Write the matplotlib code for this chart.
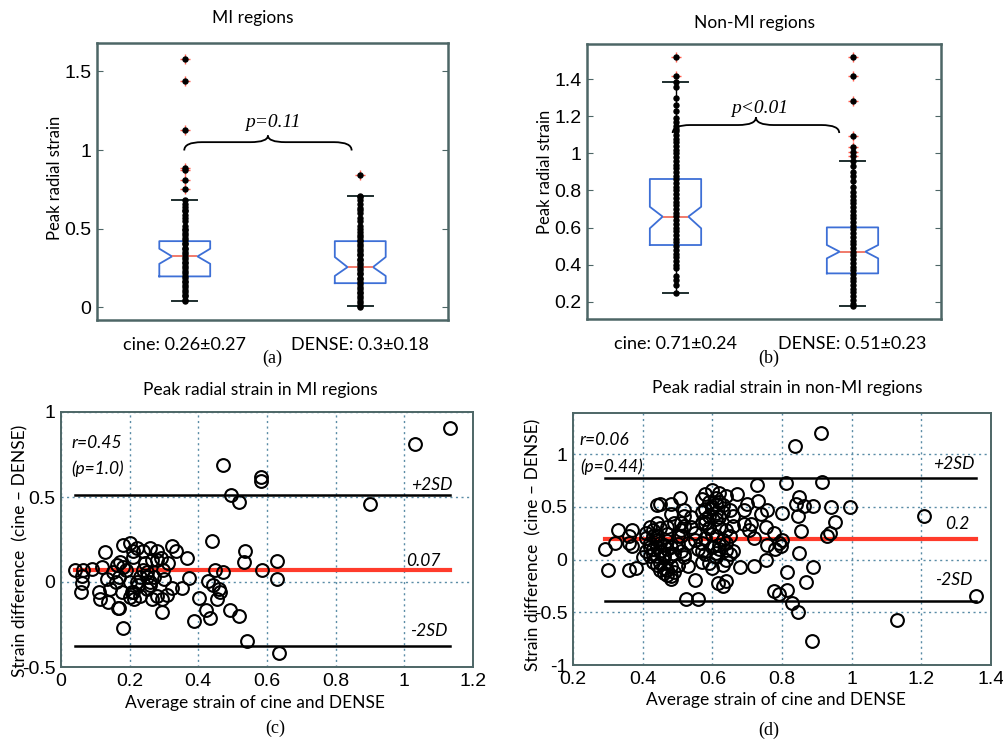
import numpy as np
import matplotlib
matplotlib.use('Agg')
import matplotlib.pyplot as plt
from matplotlib.path import Path
from matplotlib.patches import PathPatch
from matplotlib.ticker import FuncFormatter

# ---------------- data ----------------
# (a) MI regions, strip values
mi_cine = [0.04, 0.05, 0.07, 0.08, 0.10, 0.11, 0.13, 0.14, 0.16, 0.17, 0.19, 0.20,
           0.22, 0.23, 0.25, 0.26, 0.28, 0.29, 0.31, 0.32, 0.34, 0.35, 0.37, 0.38,
           0.40, 0.41, 0.43, 0.44, 0.46, 0.47, 0.49, 0.50, 0.52, 0.55, 0.57, 0.59,
           0.61, 0.62, 0.64, 0.66, 0.68, 0.754, 0.811, 0.87, 0.885, 1.128, 1.437, 1.579]
mi_dense = [0.0, 0.01, 0.03, 0.04, 0.06, 0.07, 0.09, 0.10, 0.12, 0.13, 0.15, 0.16,
            0.18, 0.19, 0.21, 0.22, 0.24, 0.25, 0.27, 0.28, 0.30, 0.31, 0.33, 0.34,
            0.36, 0.37, 0.39, 0.40, 0.42, 0.43, 0.45, 0.46, 0.48, 0.50, 0.52, 0.55,
            0.57, 0.60, 0.62, 0.63, 0.66, 0.68, 0.70, 0.71, 0.844]
mi_cine_out = [0.754, 0.811, 0.87, 0.885, 1.128, 1.437, 1.579]
mi_dense_out = [0.844]

# (b) non-MI regions, strip values
nonmi_cine = [0.245, 0.29, 0.32, 0.34, 0.38, 0.40, 0.42, 0.44, 0.46, 0.48, 0.50, 0.52,
              0.54, 0.56, 0.58, 0.60, 0.62, 0.64, 0.66, 0.68, 0.70, 0.72, 0.74, 0.76,
              0.78, 0.80, 0.82, 0.84, 0.86, 0.88, 0.90, 0.92, 0.94, 0.96, 0.98, 1.00,
              1.02, 1.04, 1.06, 1.08, 1.10, 1.12, 1.13, 1.15, 1.17, 1.19, 1.23, 1.26,
              1.30, 1.36, 1.387, 1.418, 1.519]
nonmi_dense = [0.176, 0.19, 0.21, 0.23, 0.25, 0.27, 0.29, 0.31, 0.33, 0.35, 0.37, 0.39,
               0.41, 0.43, 0.45, 0.47, 0.49, 0.51, 0.53, 0.55, 0.57, 0.59, 0.61, 0.63,
               0.65, 0.67, 0.69, 0.71, 0.73, 0.75, 0.77, 0.79, 0.82, 0.85, 0.88, 0.90,
               0.93, 0.961, 0.986, 1.01, 1.036, 1.094, 1.28, 1.418, 1.52]
nonmi_cine_out = [1.418, 1.519]
nonmi_dense_out = [0.986, 1.01, 1.036, 1.094, 1.28, 1.418, 1.52]

# box statistics: q1, median, q3, notch low/high, whisker low/high
box_mi = [dict(q1=0.197, med=0.324, q3=0.421, cilo=0.277, cihi=0.373, whislo=0.038, whishi=0.684),
          dict(q1=0.154, med=0.256, q3=0.421, cilo=0.20, cihi=0.32, whislo=0.006, whishi=0.711)]
box_nonmi = [dict(q1=0.506, med=0.659, q3=0.862, cilo=0.596, cihi=0.712, whislo=0.245, whishi=1.387),
             dict(q1=0.353, med=0.47, q3=0.601, cilo=0.434, cihi=0.506, whislo=0.176, whishi=0.961)]

labels_mi = ['cine: 0.26\u00b10.27', 'DENSE: 0.3\u00b10.18']
labels_nonmi = ['cine: 0.71\u00b10.24', 'DENSE: 0.51\u00b10.23']

# (c) Bland-Altman, MI regions
mi_avg = [1.133, 1.031, 0.471, 0.583, 0.583, 0.494, 0.519, 0.90, 0.441, 0.536, 0.534, 0.630,
          0.629, 0.586, 0.471, 0.448, 0.429, 0.444, 0.403, 0.421, 0.435, 0.388, 0.459, 0.454,
          0.463, 0.493, 0.519, 0.543, 0.634, 0.18, 0.17, 0.165, 0.295, 0.128, 0.041, 0.059,
          0.06, 0.061, 0.063, 0.09, 0.118, 0.112, 0.114, 0.138, 0.144, 0.133, 0.163, 0.173,
          0.182, 0.178, 0.16, 0.169, 0.15, 0.182, 0.2, 0.21, 0.22, 0.21, 0.19, 0.2,
          0.21, 0.213, 0.22, 0.23, 0.225, 0.23, 0.24, 0.245, 0.25, 0.26, 0.265, 0.27,
          0.28, 0.29, 0.3, 0.26, 0.25, 0.24, 0.324, 0.334, 0.366, 0.373, 0.351, 0.322,
          0.308, 0.295, 0.279, 0.264, 0.298, 0.313, 0.279, 0.259, 0.25, 0.206, 0.201]
mi_diff = [0.908, 0.81, 0.688, 0.616, 0.596, 0.514, 0.472, 0.459, 0.241, 0.182, 0.116, 0.124,
           0.018, 0.071, 0.057, 0.07, 0.006, -0.017, -0.096, -0.165, -0.214, -0.228, -0.04, -0.1,
           -0.06, -0.165, -0.2, -0.345, -0.416, -0.272, -0.154, -0.15, -0.175, 0.178, 0.071, -0.058,
           -0.006, 0.033, 0.07, 0.075, 0.09, -0.06, -0.1, -0.12, -0.04, 0.02, 0.1, 0.12,
           0.09, -0.06, 0.0, 0.03, 0.06, 0.22, 0.23, 0.18, 0.2, 0.15, 0.07, 0.0,
           -0.06, -0.1, 0.0, 0.03, -0.02, -0.08, 0.18, 0.11, 0.06, 0.2, 0.13, 0.03,
           0.18, 0.14, 0.02, -0.02, -0.04, 0.07, 0.212, 0.18, 0.14, 0.024, -0.035, -0.035,
           -0.075, -0.1, -0.08, -0.1, 0.07, 0.11, 0.13, 0.0, 0.03, -0.06, -0.09]
mi_mean, mi_hi, mi_lo = 0.07, 0.512, -0.376

# (d) Bland-Altman, non-MI regions
nonmi_avg = [0.912, 0.837, 0.914, 0.812, 0.727, 0.995, 0.942, 0.952, 0.938, 0.93,
             0.89, 1.208, 1.357, 1.129, 0.887, 0.847, 0.828, 0.89, 0.869, 0.813,
             0.815, 0.777, 0.79, 0.85, 0.855, 0.845, 0.84, 0.85, 0.864, 0.80,
             0.80, 0.797, 0.79, 0.78, 0.777, 0.753, 0.757, 0.74, 0.73, 0.71,
             0.705, 0.753, 0.757, 0.72, 0.68, 0.64, 0.615, 0.63, 0.56, 0.525,
             0.55, 0.53, 0.56, 0.57, 0.58, 0.59, 0.57, 0.58, 0.59, 0.60,
             0.61, 0.61, 0.62, 0.62, 0.63, 0.64, 0.67, 0.66, 0.65, 0.64,
             0.64, 0.61, 0.60, 0.61, 0.62, 0.507, 0.52, 0.52, 0.51, 0.51,
             0.50, 0.48, 0.48, 0.45, 0.44, 0.44, 0.43, 0.44, 0.45, 0.47,
             0.48, 0.48, 0.47, 0.46, 0.48, 0.45, 0.44, 0.43, 0.42, 0.41,
             0.42, 0.42, 0.43, 0.41, 0.38, 0.36, 0.292, 0.30, 0.33, 0.37,
             0.36, 0.36, 0.37, 0.32, 0.55, 0.54, 0.55, 0.53, 0.49, 0.47,
             0.57, 0.58, 0.65, 0.69, 0.70, 0.69, 0.62, 0.60, 0.63, 0.46,
             0.50, 0.54, 0.44, 0.59, 0.66, 0.72, 0.57, 0.61, 0.52, 0.40,
             0.41, 0.42, 0.43, 0.43, 0.44, 0.44, 0.45, 0.45, 0.46, 0.46,
             0.46, 0.47, 0.47, 0.48, 0.48, 0.49, 0.49, 0.50, 0.50, 0.51,
             0.51, 0.52, 0.52, 0.47, 0.45, 0.57, 0.58, 0.58, 0.59, 0.59,
             0.60, 0.60, 0.61, 0.61, 0.62, 0.62, 0.63, 0.63, 0.64, 0.64,
             0.65, 0.58, 0.60, 0.57, 0.66]
nonmi_diff = [1.205, 1.08, 0.74, 0.73, 0.71, 0.50, 0.50, 0.36, 0.25, 0.22,
              0.51, 0.417, -0.343, -0.574, -0.77, -0.50, -0.415, -0.067, -0.21, -0.12,
              -0.29, -0.30, -0.33, 0.06, 0.27, 0.41, 0.53, 0.59, 0.51, 0.44,
              0.19, 0.13, 0.16, 0.10, 0.25, 0.31, 0.47, 0.43, 0.56, 0.34,
              0.28, 0.0, 0.14, -0.06, -0.07, -0.20, -0.22, -0.25, -0.377, -0.37,
              -0.19, -0.06, 0.10, 0.16, 0.05, -0.03, 0.57, 0.48, 0.41, 0.66,
              0.53, 0.44, 0.63, 0.31, 0.19, 0.60, 0.62, 0.41, 0.22, 0.09,
              0.0, 0.22, 0.24, 0.06, 0.14, 0.58, 0.47, 0.41, 0.35, 0.22,
              0.22, 0.43, 0.53, 0.53, 0.52, 0.35, 0.22, 0.19, 0.16, 0.10,
              0.03, -0.06, -0.10, -0.13, -0.16, -0.03, 0.03, 0.10, 0.16, 0.25,
              0.31, 0.03, -0.02, 0.08, -0.08, -0.10, 0.10, -0.10, 0.28, 0.28,
              0.22, 0.16, 0.13, 0.16, 0.25, 0.31, 0.19, 0.16, 0.35, 0.31,
              0.35, 0.35, 0.47, 0.47, 0.53, 0.34, 0.55, 0.50, 0.45, 0.05,
              -0.05, 0.40, 0.12, 0.30, 0.08, 0.20, -0.02, 0.38, 0.05, 0.02,
              0.20, 0.12, 0.05, 0.28, 0.22, -0.05, 0.08, 0.30, 0.14, 0.02,
              -0.08, 0.24, -0.15, 0.12, -0.18, 0.05, -0.12, 0.15, -0.05, 0.08,
              0.28, 0.32, 0.02, 0.18, -0.10, 0.45, 0.38, 0.62, 0.55, 0.30,
              0.48, 0.12, 0.58, 0.02, 0.40, 0.10, 0.52, -0.05, 0.28, 0.16,
              0.05, 0.20, -0.08, 0.08, 0.32]
nonmi_mean, nonmi_hi, nonmi_lo = 0.193, 0.772, -0.39

# ---------------- styling ----------------
W, H = 1004, 740
FRAME = '#4d6666'
GRID = '#5a8ca6'
BOXC = '#3d6fd6'
MEDC = '#f07a6a'
SANS = ['Lato', 'DejaVu Sans']
TICKF = ['Liberation Sans', 'DejaVu Sans']
SERIF = ['Liberation Serif', 'DejaVu Serif']


def ax_px(fig, left, top, right, bottom):
    return fig.add_axes([left / W, 1 - bottom / H, (right - left) / W, (bottom - top) / H])


def ftext(fig, x, y, s, **kw):
    fig.text(x / W, 1 - y / H, s, ha='center', va='center', **kw)


def frame(ax, lw=1.6):
    for sp in ax.spines.values():
        sp.set_color(FRAME)
        sp.set_linewidth(lw)


def brace(ax, x0, x1, y, d_end, d_tip, w):
    m = (x0 + x1) / 2
    verts = [(x0, y - d_end), (x0, y), (x0 + w, y), (m - w, y), (m, y), (m, y + d_tip),
             (m, y), (m + w, y), (x1 - w, y), (x1, y), (x1, y - d_end)]
    codes = [Path.MOVETO, Path.CURVE3, Path.CURVE3, Path.LINETO, Path.CURVE3, Path.CURVE3,
             Path.CURVE3, Path.CURVE3, Path.LINETO, Path.CURVE3, Path.CURVE3]
    ax.add_patch(PathPatch(Path(verts, codes), fc='none', ec='black', lw=1.3, zorder=5))


def box_panel(ax, stats, strips, outs, labels, ylim, yticks):
    for s in stats:
        s['fliers'] = []
    ax.bxp(stats, positions=[1, 2], widths=0.29, shownotches=True, showfliers=False,
           capwidths=0.14, patch_artist=False,
           boxprops=dict(color=BOXC, lw=1.3), medianprops=dict(color=MEDC, lw=1.4),
           whiskerprops=dict(color='black', lw=1.0), capprops=dict(color='#1e2e2e', lw=1.4))
    for pos, vals, o in zip([1, 2], strips, outs):
        ax.plot([pos] * len(o), o, '+', color='#ff5a4a', ms=7, mew=1.0, zorder=3)
        ax.plot([pos] * len(vals), vals, 'o', color='black', ms=3.6, zorder=4)
    ax.set_xlim(0.5, 2.5)
    ax.set_ylim(*ylim)
    ax.set_yticks(yticks)
    ax.yaxis.set_major_formatter(FuncFormatter(lambda v, p: '%g' % round(v, 2)))
    ax.set_xticks([1, 2])
    ax.set_xticklabels(labels, family=SANS, fontsize=13)
    ax.tick_params(axis='x', length=0, pad=12)
    ax.tick_params(axis='y', direction='in', length=4, right=True, color=FRAME,
                   labelsize=14, pad=4)
    for t in ax.get_yticklabels():
        t.set_family(TICKF)
    frame(ax, 1.8)


def ba_panel(ax, xs, ys, mean, hi, lo, xlim, ylim, xticks, yticks):
    ax.grid(True, ls=(0, (1.5, 2.5)), color=GRID, lw=1.0)
    ax.set_axisbelow(True)
    ax.plot(xs, ys, 'o', mfc='none', mec='black', ms=9.2, mew=1.5, zorder=3)
    x0, x1 = min(xs), max(xs)
    ax.plot([x0, x1], [hi, hi], color='black', lw=1.8, zorder=2)
    ax.plot([x0, x1], [lo, lo], color='black', lw=1.8, zorder=2)
    ax.plot([x0, x1], [mean, mean], color='#ff3b2b', lw=3.0, zorder=2)
    ax.set_xlim(*xlim)
    ax.set_ylim(*ylim)
    ax.set_xticks(xticks)
    ax.set_yticks(yticks)
    fmt = FuncFormatter(lambda v, p: '%g' % round(v, 2))
    ax.xaxis.set_major_formatter(fmt)
    ax.yaxis.set_major_formatter(fmt)
    ax.tick_params(direction='in', length=0, labelsize=14, pad=4)
    for t in ax.get_xticklabels() + ax.get_yticklabels():
        t.set_family(TICKF)
    frame(ax, 1.4)


fig = plt.figure(figsize=(W / 100, H / 100), dpi=100)

# (a)
ax_a = ax_px(fig, 97, 43, 448, 320)
box_panel(ax_a, box_mi, [mi_cine, mi_dense], [mi_cine_out, mi_dense_out], labels_mi,
          (-0.08, 1.68), [0, 0.5, 1, 1.5])
brace(ax_a, 0.997, 1.951, 1.05, 0.053, 0.042, 0.1)
ax_a.text(1.50, 1.177, 'p=0.11', ha='center', va='center', family=SERIF,
          style='italic', fontsize=14)
ftext(fig, 253, 18, 'MI regions', family=SANS, fontsize=12.5)
ftext(fig, 55, 178, 'Peak radial strain', family=SANS, fontsize=12, rotation=90)
ftext(fig, 272, 358, '(a)', family=SERIF, fontsize=13)

# (b)
ax_b = ax_px(fig, 587, 44, 941, 319)
box_panel(ax_b, box_nonmi, [nonmi_cine, nonmi_dense], [nonmi_cine_out, nonmi_dense_out],
          labels_nonmi, (0.107, 1.59), [0.2, 0.4, 0.6, 0.8, 1.0, 1.2, 1.4])
brace(ax_b, 0.984, 1.925, 1.153, 0.043, 0.042, 0.1)
ax_b.text(1.477, 1.243, 'p<0.01', ha='center', va='center', family=SERIF,
          style='italic', fontsize=14)
ftext(fig, 755, 23, 'Non-MI regions', family=SANS, fontsize=12.5)
ftext(fig, 545, 172, 'Peak radial strain', family=SANS, fontsize=12, rotation=90)
ftext(fig, 769, 358, '(b)', family=SERIF, fontsize=13)

# (c)
ax_c = ax_px(fig, 61, 412, 473, 667)
ba_panel(ax_c, mi_avg, mi_diff, mi_mean, mi_hi, mi_lo, (0, 1.2), (-0.5, 1.0),
         [0, 0.2, 0.4, 0.6, 0.8, 1.0, 1.2], [-0.5, 0, 0.5, 1])
it = dict(family=SANS, style='italic', fontsize=12.5)
ax_c.text(1.08, 0.57, '+2SD', ha='center', va='center', **it)
ax_c.text(1.055, 0.125, '0.07', ha='center', va='center', **it)
ax_c.text(1.07, -0.286, '-2SD', ha='center', va='center', **it)
ax_c.text(0.031, 0.82, 'r=0.45', ha='left', va='center', **it)
ax_c.text(0.031, 0.665, '(p=1.0)', ha='left', va='center', **it)
ftext(fig, 260, 390, 'Peak radial strain in MI regions', family=SANS, fontsize=12.5)
ftext(fig, 255, 703, 'Average strain of cine and DENSE', family=SANS, fontsize=12.5)
ftext(fig, 20, 551, 'Strain difference  (cine \u2013 DENSE)', family=SANS, fontsize=12.5,
      rotation=90)
ftext(fig, 275, 728, '(c)', family=SERIF, fontsize=13)

# (d)
ax_d = ax_px(fig, 573, 413, 991, 665)
ba_panel(ax_d, nonmi_avg, nonmi_diff, nonmi_mean, nonmi_hi, nonmi_lo, (0.2, 1.4),
         (-1.0, 1.39), [0.2, 0.4, 0.6, 0.8, 1.0, 1.2, 1.4], [-1, -0.5, 0, 0.5, 1])
ax_d.text(1.292, 0.908, '+2SD', ha='center', va='center', **it)
ax_d.text(1.302, 0.338, '0.2', ha='center', va='center', **it)
ax_d.text(1.292, -0.19, '-2SD', ha='center', va='center', **it)
ax_d.text(0.22, 1.136, 'r=0.06', ha='left', va='center', **it)
ax_d.text(0.22, 0.882, '(p=0.44)', ha='left', va='center', **it)
ftext(fig, 787, 388, 'Peak radial strain in non-MI regions', family=SANS, fontsize=12.5)
ftext(fig, 776, 700, 'Average strain of cine and DENSE', family=SANS, fontsize=12.5)
ftext(fig, 533, 545, 'Strain difference  (cine \u2013 DENSE)', family=SANS, fontsize=12.5,
      rotation=90)
ftext(fig, 769, 730, '(d)', family=SERIF, fontsize=13)

fig.savefig('out.png', dpi=100)
